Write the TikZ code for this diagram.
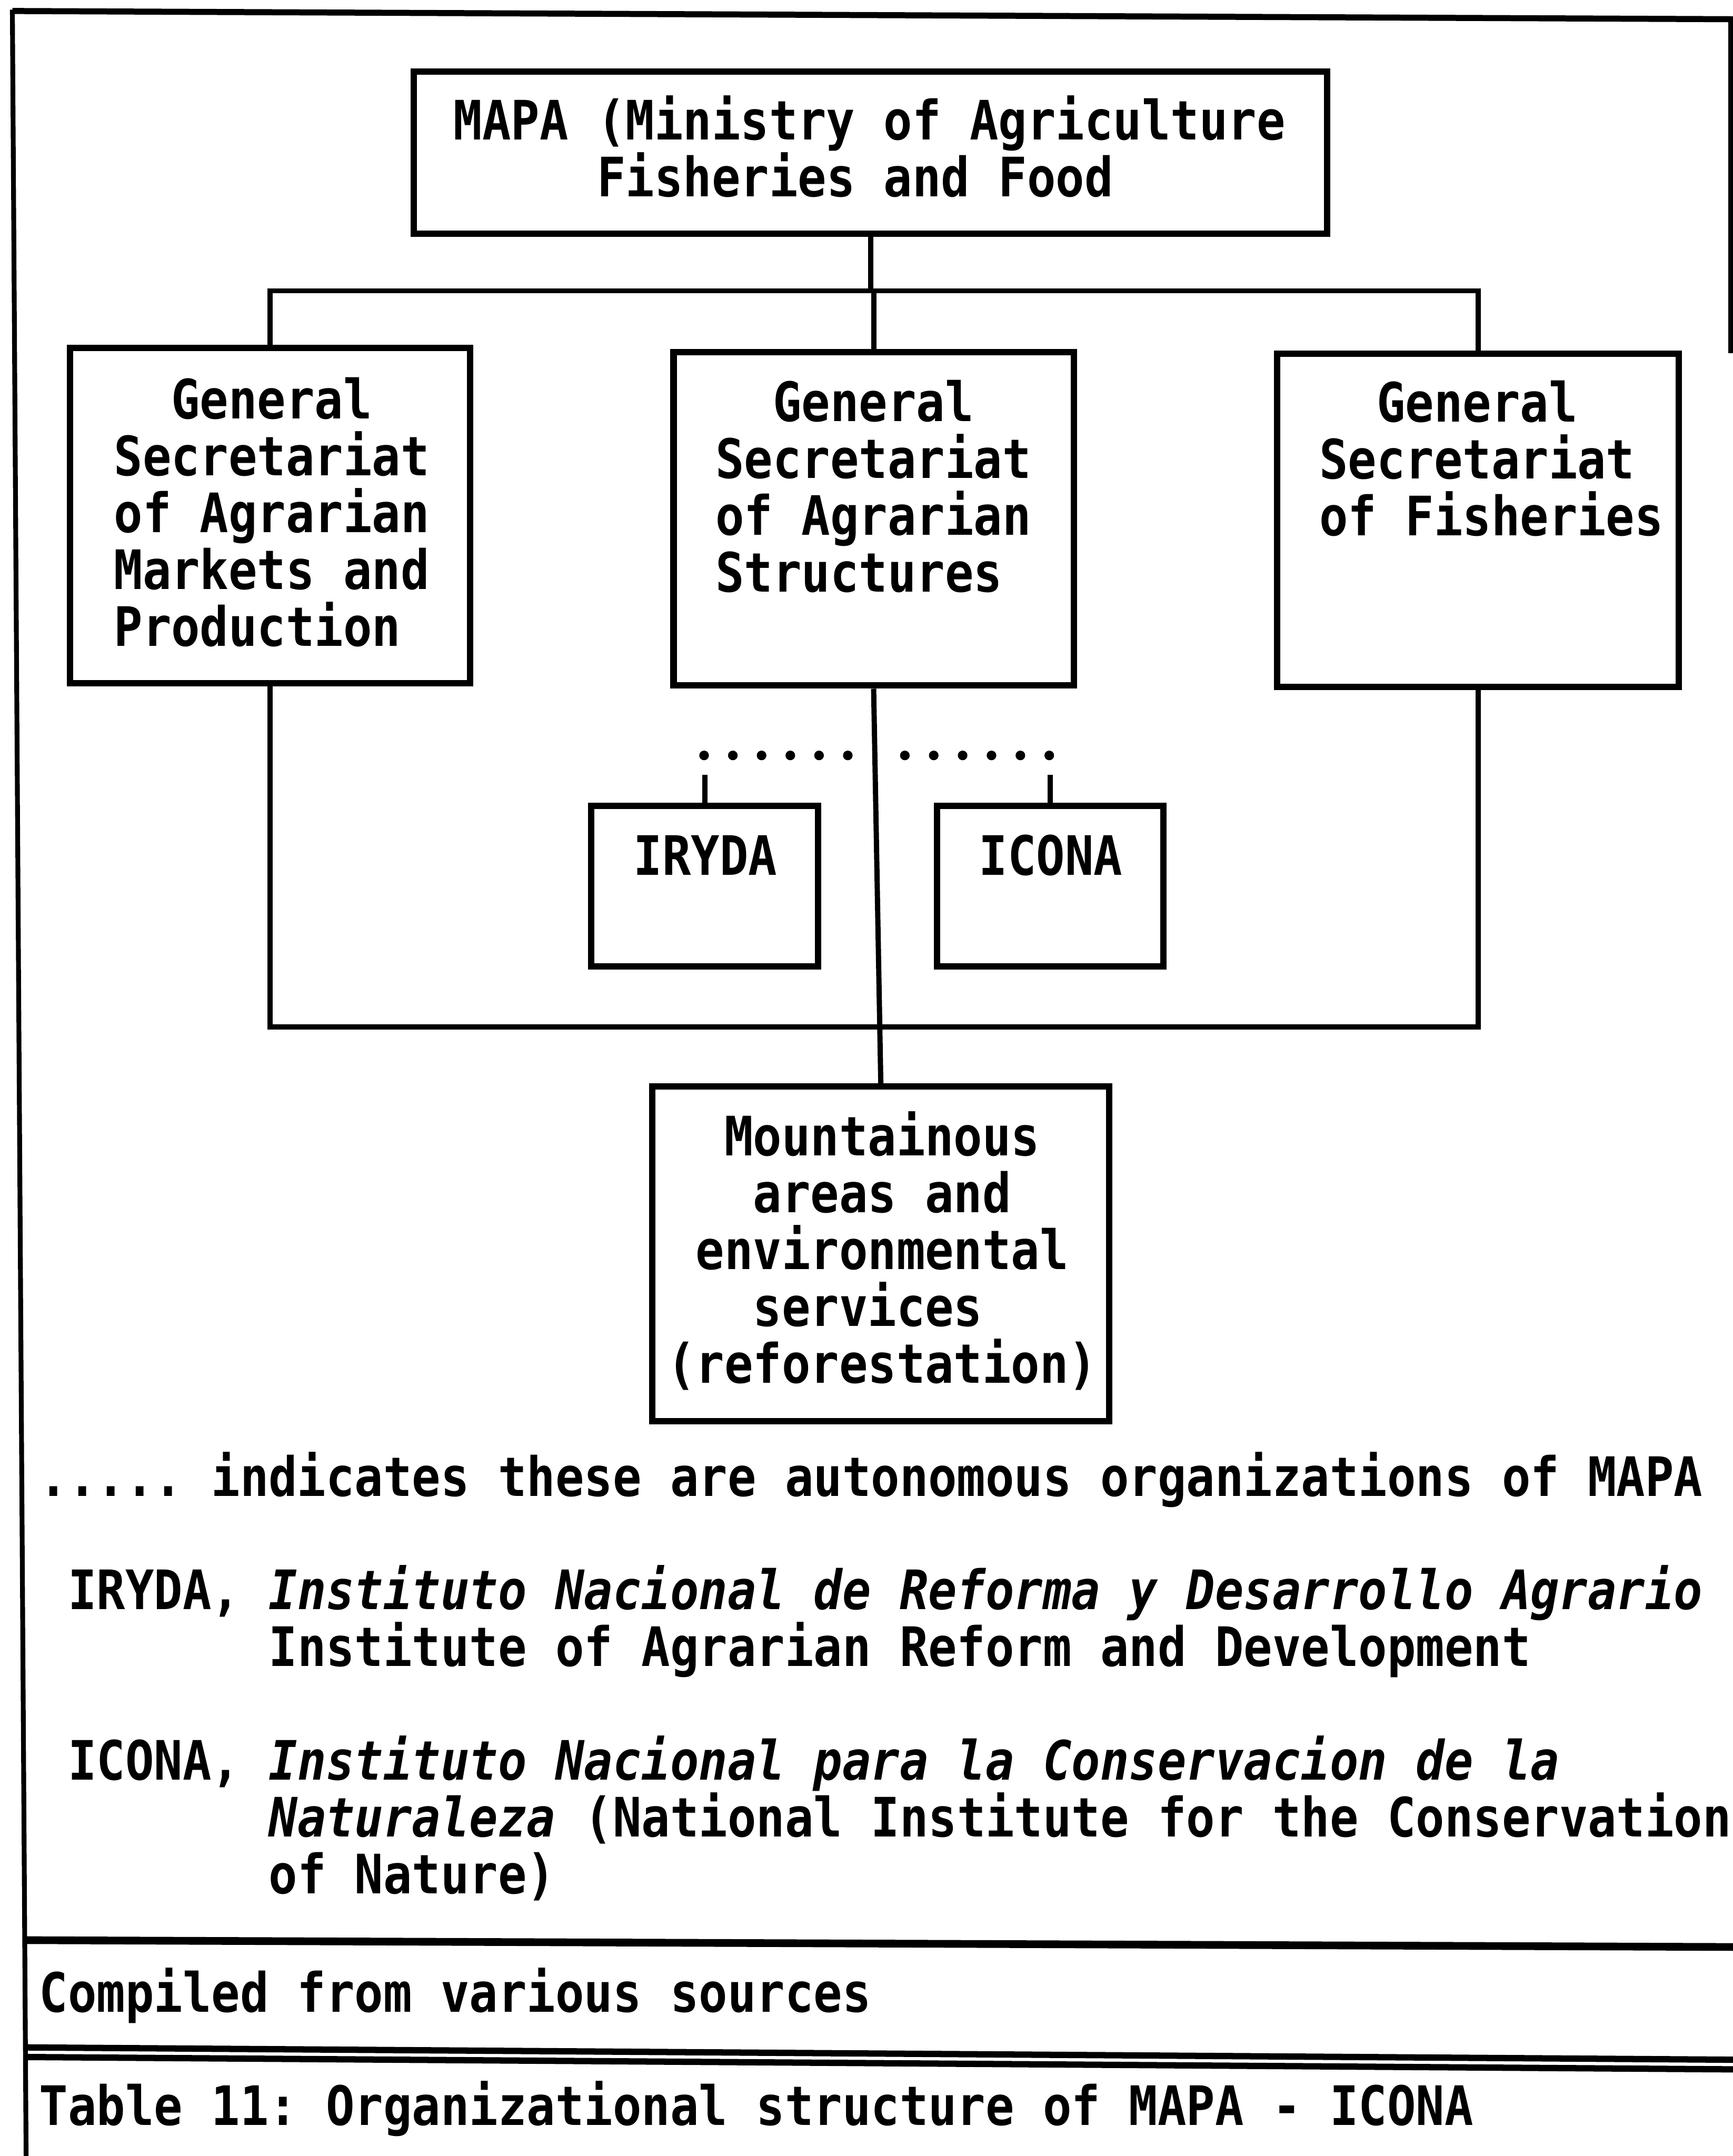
\documentclass[tikz,border=0pt]{standalone}
\usepackage{fontspec}
\newfontfamily\tfont{DejaVu Sans Mono}[FakeStretch=0.877]
\newcommand{\tw}{\tfont\bfseries\fontsize{19.75pt}{20.65pt}\selectfont\frenchspacing}
\newcommand{\cols}[1]{\hspace*{#1\fontcharwd\font`M}}
\tikzset{
  box/.style={draw, line width=2.3pt, inner sep=0pt},
  conn/.style={line width=1.9pt},
  txt/.style={inner sep=0pt, anchor=base west, font=\tw},
  framel/.style={line width=1.9pt},
}
\begin{document}
\begin{tikzpicture}[x=0.5pt, y=-0.5pt]
\useasboundingbox (0,0) rectangle (1260,1568);

% outer frame and separators
\draw[framel, line width=2.2pt] (9,8) -- (1264,14);
\draw[framel, line width=1.75pt] (9,7) -- (19,1570);
\draw[framel] (1258.5,12) -- (1258.5,257);
\draw[line width=2.8pt] (17,1411) -- (1264,1416);
\draw[line width=2.3pt] (18,1489) -- (1264,1498);
\draw[line width=2.3pt] (18,1496) -- (1264,1505);

% boxes
\node[box, minimum width=332pt, minimum height=59pt] (MAPA) at (633,111) {};
\node[box, minimum width=145.5pt, minimum height=122pt] (L) at (196.5,375) {};
\node[box, minimum width=145.5pt, minimum height=121.3pt] (M) at (635.3,377.3) {};
\node[box, minimum width=146pt, minimum height=121.3pt] (R) at (1074.8,378.4) {};
\node[box, minimum width=82.5pt, minimum height=58.5pt] (IRYDA) at (512.5,644.4) {};
\node[box, minimum width=82.3pt, minimum height=58.5pt] (ICONA) at (763.75,644.4) {};
\node[box, minimum width=166.2pt, minimum height=121.7pt] (Mount) at (640.5,912) {};

% box texts
\node[txt] (tMAPA) at (329.5,101.6) {\parbox[t]{400pt}{MAPA (Ministry of Agriculture\\\cols{5}Fisheries and Food}};
\node[txt] (tL) at (82.5,304.7) {\parbox[t]{200pt}{\cols{2}General\\Secretariat\\of Agrarian\\Markets and\\Production}};
\node[txt] (tM) at (520,306.5) {\parbox[t]{200pt}{\cols{2}General\\Secretariat\\of Agrarian\\Structures}};
\node[txt] (tR) at (959,307) {\parbox[t]{200pt}{\cols{2}General\\Secretariat\\of Fisheries}};
\node[txt, anchor=base] (tI) at (513,636.6) {IRYDA};
\node[txt, anchor=base] (tC) at (764,636.6) {ICONA};
\node[txt] (tMount) at (484.7,840.6) {\parbox[t]{200pt}{\cols{2}Mountainous\\\cols{3}areas and\\\cols{1}environmental\\\cols{3}services\\(reforestation)}};

% connectors
\coordinate (bar) at (0,211.5);
\coordinate (low) at (0,747);
\draw[conn] (MAPA.south) -- (MAPA.south |- bar);
\draw[conn] (L.north) -- (L.north |- bar) -- (R.north |- bar) -- (R.north);
\draw[conn] (M.north) -- (M.north |- bar);
\draw[conn] (L.south) -- (L.south |- low) -- (R.south |- low) -- (R.south);
\draw[conn] (M.south) -- (Mount.north);
\draw[conn] (IRYDA.north) -- ++(0,-20) coordinate (tickI);
\draw[conn] (ICONA.north) -- ++(0,-20) coordinate (tickC);
\foreach \i in {0,...,5} {
  \fill (512+\i*20.9,549.4) circle[radius=1.75pt];
  \fill (658+\i*21,549.4) circle[radius=1.75pt];
}

% legend
\node[txt] (legend) at (28.2,1088) {\parbox[t]{700pt}{..... indicates these are autonomous organizations of MAPA\\[20.65pt]\cols{1}IRYDA, \textit{Instituto Nacional de Reforma y Desarrollo Agrario}\\\cols{8}Institute of Agrarian Reform and Development\\[20.65pt]\cols{1}ICONA, \textit{Instituto Nacional para la Conservacion de la}\\\cols{8}\textit{Naturaleza} (National Institute for the Conservation\\\cols{8}of Nature)}};
\node[txt] (src) at (28.2,1463.4) {Compiled from various sources};
\node[txt] (cap) at (28.2,1545.6) {Table 11: Organizational structure of MAPA - ICONA};
\end{tikzpicture}
\end{document}
